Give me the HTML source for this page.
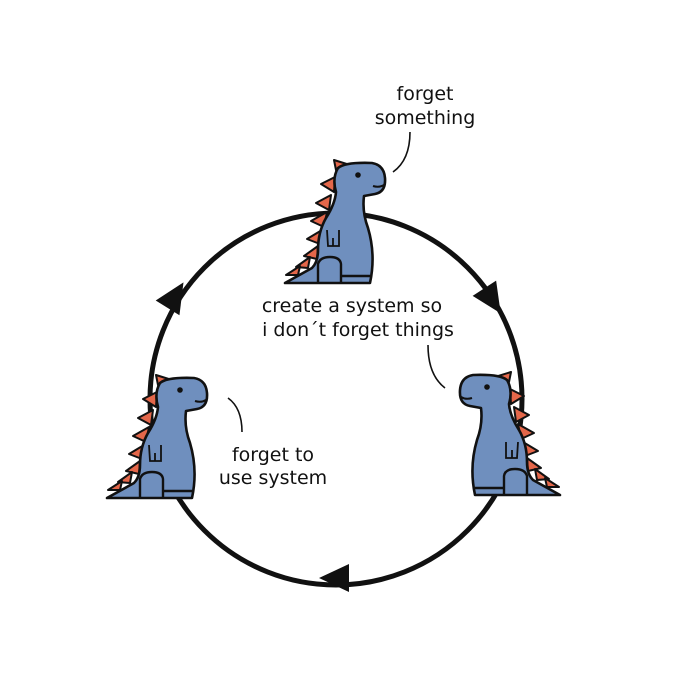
<!DOCTYPE html>
<html><head><meta charset="utf-8"><style>
html,body{margin:0;padding:0;background:#fff;}
svg{display:block}
text{font-family:"DejaVu Sans","Liberation Sans",sans-serif;font-size:19px;fill:#111;text-anchor:middle}
</style></head><body>
<svg width="700" height="700" viewBox="0 0 700 700" xmlns="http://www.w3.org/2000/svg">
<defs>
<g id="dino">
  <g fill="#e4674a" stroke="#111" stroke-width="2" stroke-linejoin="round">
    <path d="M336 170 L334 160 L350 165 Z"/>
    <path d="M334 192 L321 184 L335 177 Z"/>
    <path d="M329 210 L316 203 L331 195 Z"/>
    <path d="M324 227 L311 221 L327 212 Z"/>
    <path d="M320 244 L307 239 L322 230 Z"/>
    <path d="M317 259 L304 256 L318 246 Z"/>
    <path d="M308 268 L296 267 L310 257 Z"/>
    <path d="M298 275 L286 275 L300 266 Z"/>
  </g>
  <path d="M285 283 L312 268 Q318 262 318 250 Q318 232 326 218 Q335 204 336 192 Q332 178 338 168 Q345 162 372 163 Q384 165 385 178 Q386 192 375 194 L364 196 Q362 212 368 228 Q376 255 370 283 Z" fill="#6f8fbe" stroke="#111" stroke-width="2.6" stroke-linejoin="round"/>
  <path d="M318 283 L318 264 Q320 257 330 257 Q340 257 341 264 L341 283 M341 276 L370 276" fill="none" stroke="#111" stroke-width="2.4"/>
  <path d="M327 230 L328 246 L333 246 L333 238 M333 246 L339 246 L339 230" fill="none" stroke="#111" stroke-width="1.8"/>
  <circle cx="358" cy="175" r="2.8" fill="#111"/>
  <path d="M373 186 Q379 188 384 185" fill="none" stroke="#111" stroke-width="2"/>
</g>
<path id="ah" d="M16 0 L-14 -14 L-14 14 Z" fill="#111"/>
</defs>
<circle cx="336" cy="399" r="186" fill="none" stroke="#111" stroke-width="5"/>
<use href="#ah" transform="translate(492,300) rotate(57)"/>
<use href="#ah" transform="translate(335,578) rotate(180)"/>
<use href="#ah" transform="translate(175,296) rotate(-58)"/>
<use href="#dino"/>
<use href="#dino" transform="translate(-178,215)"/>
<use href="#dino" transform="translate(845,212) scale(-1,1)"/>
<g fill="none" stroke="#111" stroke-width="1.6">
<path d="M410 132 Q410 160 393 172"/>
<path d="M428 345 Q428 375 445 388"/>
<path d="M228 398 Q242 408 242 432"/>
</g>
<text x="425" y="100">forget</text>
<text x="425" y="124">something</text>
<text x="352" y="312">create a system so</text>
<text x="358" y="336">i don´t forget things</text>
<text x="273" y="461">forget to</text>
<text x="273" y="484">use system</text>
</svg>
</body></html>
